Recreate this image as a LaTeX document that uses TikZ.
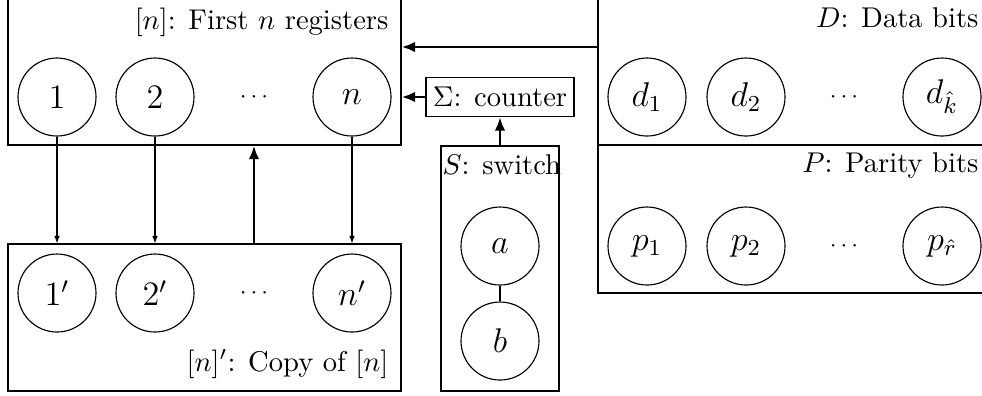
\documentclass[tikz,border=0pt]{standalone}
\usetikzlibrary{arrows.meta,fit}
\begin{document}
\begin{tikzpicture}[x=0.35pt,y=-0.35pt,
  reg/.style={circle,draw,line width=0.4pt,minimum size=27.3pt,inner sep=0pt,font=\large},
  dotsnode/.style={inner sep=0pt,font=\footnotesize},
  box/.style={draw,line width=0.45pt,inner sep=0pt},
  lbl/.style={inner sep=0pt},
  thinarrow/.style={-{Latex[length=2.6pt,width=2pt]},line width=0.4pt},
  thickarrow/.style={-{Latex[length=4.7pt,width=3.7pt]},line width=1pt}]
\clip (0,0) rectangle (982,395);
% boxes
\node[box,fit={(8,-10) (401,145)}] (R) {};
\node[box,fit={(8,244) (401,391)}] (C) {};
\node[box,fit={(598,-10) (1000,145)}] (D) {};
\node[box,fit={(598,145) (1000,293)}] (P) {};
\node[box,fit={(441,146) (559,391)}] (S) {};
\node[draw,line width=0.45pt,minimum height=13.65pt,inner xsep=2.4pt] (cnt) at (500,97) {$\Sigma$: counter};
% labels
\node[lbl,anchor=base east] (lR) at (389,29) {$[n]$: First $n$ registers};
\node[lbl,anchor=base east] (lC) at (389,371) {$[n]'$: Copy of $[n]$};
\node[lbl,anchor=base east] (lD) at (979,27) {$D$: Data bits};
\node[lbl,anchor=base east] (lP) at (979,172) {$P$: Parity bits};
\node[lbl,anchor=base west] (lS) at (442,174) {$S$: switch};
% registers
\node[reg] (r1) at (57,97) {$1$};
\node[reg] (r2) at (155,97) {$2$};
\node[dotsnode] (rd) at (254,97) {$\cdots$};
\node[reg] (rn) at (352,97) {$n$};
\node[reg] (c1) at (57,293) {$1'$};
\node[reg] (c2) at (155,293) {$2'$};
\node[dotsnode] (cd) at (254,293) {$\cdots$};
\node[reg] (cn) at (352,293) {$n'$};
\node[reg] (d1) at (647,97) {$d_1$};
\node[reg] (d2) at (746,97) {$d_2$};
\node[dotsnode] (dd) at (844,97) {$\cdots$};
\node[reg] (dk) at (942,97) {$d_{\hat{k}}$};
\node[reg] (p1) at (647,246) {$p_1$};
\node[reg] (p2) at (746,246) {$p_2$};
\node[dotsnode] (pd) at (844,246) {$\cdots$};
\node[reg] (pr) at (942,246) {$p_{\hat{r}}$};
\node[reg] (a) at (500,246) {$a$};
\node[reg] (b) at (500,341) {$b$};
% connectors
\draw[line width=0.4pt] (a) -- (b);
\draw[thinarrow] (r1.south) -- (r1.south |- C.north);
\draw[thinarrow] (r2.south) -- (r2.south |- C.north);
\draw[thinarrow] (rn.south) -- (rn.south |- C.north);
\draw[thickarrow] (C.north -| rd) -- (R.south -| rd);
\coordinate (dsrc) at (598,47);
\draw[thickarrow] (dsrc) -- (dsrc -| R.east);
\draw[thickarrow] (cnt.west) -- (cnt.west -| R.east);
\draw[thickarrow] (S.north) -- (cnt.south);
\end{tikzpicture}
\end{document}
